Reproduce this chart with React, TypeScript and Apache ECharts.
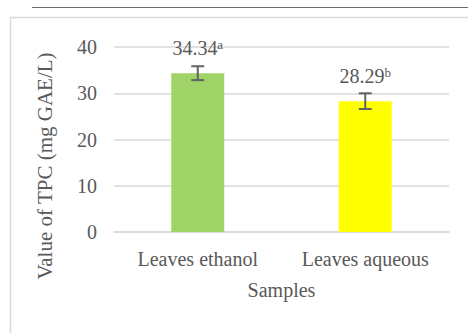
import React, { useEffect, useRef } from "react";
import * as echarts from "echarts";

const categories = ["Leaves ethanol", "Leaves aqueous"];
const values = [34.34, 28.29];
const errors = [1.5, 1.7];
const letters = ["a", "b"];
const barColors = ["#A0D468", "#FFFF00"];
const yTicks = [0, 10, 20, 30, 40];

const FONT = "'Liberation Serif', 'Times New Roman', serif";
const TEXT = "#595959";

export default function App() {
  const ref = useRef<HTMLDivElement>(null);
  useEffect(() => {
    if (!ref.current) return;
    const chart = echarts.init(ref.current, null, { renderer: "svg" });
    const option = {
      animation: false,
      backgroundColor: "#ffffff",
      textStyle: { fontFamily: FONT },
      graphic: [
        {
          type: "line",
          shape: { x1: 32, y1: 7.5, x2: 468, y2: 7.5 },
          style: { stroke: "#6b6b6b", lineWidth: 1 },
        },
        {
          type: "polyline",
          shape: { points: [[10.5, 333], [10.5, 17.5], [468, 17.5]] },
          style: { stroke: "#d9d9d9", lineWidth: 1.5, fill: "none" },
        },
        {
          type: "text",
          x: 45,
          y: 166,
          rotation: Math.PI / 2,
          style: {
            text: "Value of TPC (mg GAE/L)",
            font: `21px ${FONT}`,
            fill: TEXT,
            align: "center",
            verticalAlign: "middle",
          },
        },
      ],
      grid: { left: 114, right: 19, top: 47, bottom: 101 },
      xAxis: {
        type: "category",
        data: categories,
        name: "Samples",
        nameLocation: "middle",
        nameGap: 48,
        nameTextStyle: { color: TEXT, fontSize: 20, fontFamily: FONT },
        axisLine: { show: true, lineStyle: { color: "#d9d9d9", width: 1.5 } },
        axisTick: { show: false },
        axisLabel: { color: TEXT, fontSize: 20, fontFamily: FONT, margin: 17 },
      },
      yAxis: {
        type: "value",
        min: yTicks[0],
        max: yTicks[yTicks.length - 1],
        interval: 10,
        axisLine: { show: false },
        axisTick: { show: false },
        splitLine: { lineStyle: { color: "#d9d9d9", width: 1.5 } },
        axisLabel: { color: TEXT, fontSize: 20, fontFamily: FONT, margin: 17 },
      },
      series: [
        {
          type: "bar",
          barWidth: "31.6%",
          data: values.map((v, i) => ({
            value: v,
            itemStyle: { color: barColors[i] },
            label: {
              show: true,
              position: "top",
              distance: 15,
              formatter: `{v|${v.toFixed(2)}}{s|${letters[i]}}`,
              rich: {
                v: { fontSize: 20, lineHeight: 20, color: TEXT, fontFamily: FONT },
                s: { fontSize: 13, lineHeight: 13, color: TEXT, fontFamily: FONT, verticalAlign: "top" },
              },
            },
          })),
          z: 2,
        },
        {
          type: "custom",
          z: 5,
          data: values.map((v, i) => [i, v, errors[i]]),
          renderItem: (params: any, api: any) => {
            const x = api.value(0);
            const v = api.value(1);
            const e = api.value(2);
            const top = api.coord([x, v + e]);
            const bot = api.coord([x, v - e]);
            const hw = 6.5;
            const st = { stroke: "#636363", lineWidth: 2 };
            return {
              type: "group",
              children: [
                { type: "line", shape: { x1: top[0], y1: top[1], x2: bot[0], y2: bot[1] }, style: st },
                { type: "line", shape: { x1: top[0] - hw, y1: top[1], x2: top[0] + hw, y2: top[1] }, style: st },
                { type: "line", shape: { x1: bot[0] - hw, y1: bot[1], x2: bot[0] + hw, y2: bot[1] }, style: st },
              ],
            };
          },
        },
      ],
    };
    chart.setOption(option as any);
    return () => chart.dispose();
  }, []);
  return (
    <div
      ref={ref}
      style={{ position: "absolute", left: 0, top: 0, width: 468, height: 333 }}
    />
  );
}
